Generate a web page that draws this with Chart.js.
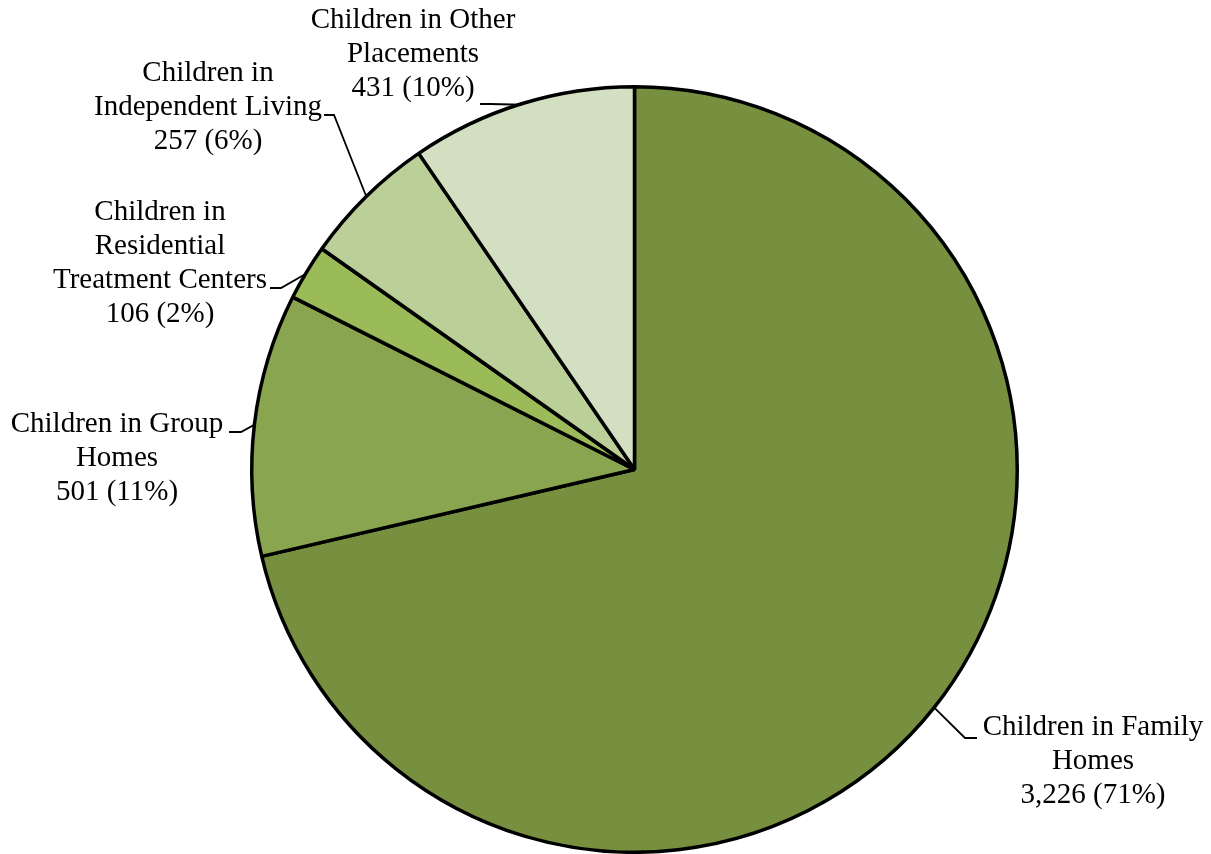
<!DOCTYPE html>
<html>
<head>
<meta charset="utf-8">
<script src="https://cdn.jsdelivr.net/npm/chart.js@4/dist/chart.umd.min.js"></script>
<style>
html,body{margin:0;padding:0;background:#fff;}
#wrap{width:1211px;height:854px;position:relative;}
</style>
</head>
<body>
<div id="wrap"><canvas id="c" width="1211" height="854"></canvas></div>
<script>
const categories = [
  "Children in Family Homes",
  "Children in Group Homes",
  "Children in Residential Treatment Centers",
  "Children in Independent Living",
  "Children in Other Placements"
];
const values = [3226, 501, 106, 257, 431];
const labelLines = [
  ["Children in Family", "Homes"],
  ["Children in Group", "Homes"],
  ["Children in", "Residential", "Treatment Centers"],
  ["Children in", "Independent Living"],
  ["Children in Other", "Placements"]
];
const colors = ["#77903f", "#8aa54f", "#9bbb59", "#bbcf99", "#d3dfc1"];

// label layout (style): text centre x, first line centre y, leader end near text, elbow
const labelLayout = [
  {cx:1093, y:727, end:[977,738], elbow:[965,738]},
  {cx:117,  y:424, end:[229,432], elbow:[241,432]},
  {cx:160,  y:212, end:[270,288], elbow:[281,288]},
  {cx:208,  y:73,  end:[324,115], elbow:[334,115]},
  {cx:413,  y:20,  end:[480,104], elbow:[490,104]}
];
const LINE_H = 34;
const FONT = '29px "Liberation Serif", "Times New Roman", serif';

const total = values.reduce((a,b)=>a+b,0);
function fmt(v){ return v.toLocaleString('en-US'); }

const labelPlugin = {
  id: 'pieLabels',
  afterDatasetsDraw(chart){
    const ctx = chart.ctx;
    const meta = chart.getDatasetMeta(0);
    ctx.save();
    ctx.font = FONT;
    ctx.fillStyle = '#000';
    ctx.textAlign = 'center';
    ctx.textBaseline = 'middle';
    meta.data.forEach((arc, i) => {
      const L = labelLayout[i];
      const lines = labelLines[i].concat([fmt(values[i]) + ' (' + Math.round(values[i]/total*100) + '%)']);
      lines.forEach((t, k) => ctx.fillText(t, L.cx, L.y + k*LINE_H));
      const mid = (arc.startAngle + arc.endAngle)/2;
      const r = arc.outerRadius - 1;
      const px = arc.x + Math.cos(mid)*r, py = arc.y + Math.sin(mid)*r;
      ctx.beginPath();
      ctx.strokeStyle = '#000';
      ctx.lineWidth = 1.8;
      ctx.moveTo(L.end[0], L.end[1]);
      ctx.lineTo(L.elbow[0], L.elbow[1]);
      ctx.lineTo(px, py);
      ctx.stroke();
    });
    ctx.restore();
  }
};

new Chart(document.getElementById('c'), {
  type: 'pie',
  data: {
    labels: categories,
    datasets: [{
      data: values,
      backgroundColor: colors,
      borderColor: '#000',
      borderWidth: 3.5
    }]
  },
  options: {
    responsive: false,
    animation: false,
    layout: { padding: { left: 250, right: 192, top: 85, bottom: 0 } },
    plugins: { legend: { display: false }, tooltip: { enabled: false } }
  },
  plugins: [labelPlugin]
});
</script>
</body>
</html>
